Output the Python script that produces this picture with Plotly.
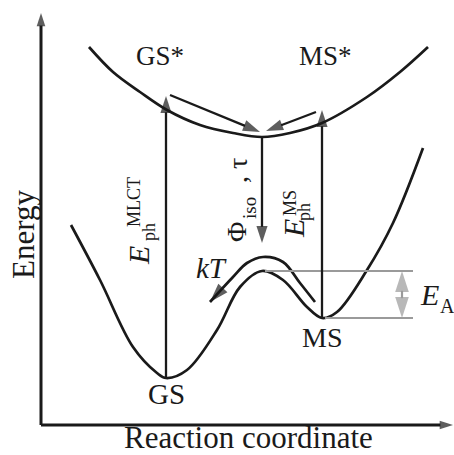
import plotly.graph_objects as go

# ---- data (schematic coordinates: x = reaction coordinate, y = energy, screen-like units) ----
lower_x = [71, 100, 133, 157, 166, 187, 217, 240, 262, 283, 307, 322, 337, 367, 393, 423]
lower_y = [225, 280, 347, 373, 378, 370, 330, 287, 271, 280, 307, 318, 312, 270, 223, 148]

upper_x = [89, 113, 140, 167, 200, 233, 262, 290, 322, 367, 400, 428]
upper_y = [47, 72, 92, 110, 125, 133, 137, 133, 123, 97, 72, 47]

kt_x = [315, 300, 283, 263, 247, 233, 210]
kt_y = [302, 283, 262, 257, 263, 277, 302]

# arrows: (x0, y0, x1, y1)
axis_arrows = [(41, 425, 41, 13), (41, 425, 453, 425)]
black_arrows = [
    (166, 378, 166, 96),    # E_ph^MLCT excitation
    (322, 318, 322, 110),   # E_ph^MS excitation
    (262, 138, 262, 243),   # Phi_iso, tau relaxation
    (170, 95, 260, 132),    # GS* -> minimum
    (316, 112, 266, 131),   # MS* -> minimum
]
ea_levels = [(265, 271, 413, 271), (325, 318, 413, 318)]
ea_arrows = [(402, 295, 402, 271), (402, 295, 402, 318)]

BLACK = "#1a1a1a"
GREY = "#9a9a9a"
FONT = "Liberation Serif"

fig = go.Figure()


def add_arrow(x0, y0, x1, y1, color, width, size):
    fig.add_trace(go.Scatter(
        x=[x0, x1], y=[y0, y1], mode="lines+markers",
        line=dict(color=color, width=width),
        marker=dict(symbol="arrow", size=[0, size], angleref="previous",
                    color=color, line=dict(width=0)),
        hoverinfo="skip", showlegend=False))


# curves
fig.add_trace(go.Scatter(x=lower_x, y=lower_y, mode="lines",
                         line=dict(color=BLACK, width=2.7, shape="spline", smoothing=1.0),
                         hoverinfo="skip", showlegend=False))
fig.add_trace(go.Scatter(x=upper_x, y=upper_y, mode="lines",
                         line=dict(color=BLACK, width=2.7, shape="spline", smoothing=1.0),
                         hoverinfo="skip", showlegend=False))
fig.add_trace(go.Scatter(x=kt_x, y=kt_y, mode="lines+markers",
                         line=dict(color=BLACK, width=2.7, shape="spline", smoothing=1.0),
                         marker=dict(symbol="arrow", size=[0] * (len(kt_x) - 1) + [20],
                                     angleref="previous", color=BLACK, line=dict(width=0)),
                         hoverinfo="skip", showlegend=False))

# grey E_A levels and double arrow
for (x0, y0, x1, y1) in ea_levels:
    fig.add_trace(go.Scatter(x=[x0, x1], y=[y0, y1], mode="lines",
                             line=dict(color=GREY, width=2.2),
                             hoverinfo="skip", showlegend=False))
for a in ea_arrows:
    add_arrow(*a, GREY, 2.2, 22)

for a in axis_arrows:
    add_arrow(*a, BLACK, 3, 14)
for a in black_arrows:
    add_arrow(*a, BLACK, 2.3, 18)


def txt(x, y, s, size, angle=0):
    fig.add_annotation(x=x, y=y, text=s, showarrow=False, textangle=angle,
                       xanchor="center", yanchor="middle",
                       font=dict(family=FONT, size=size, color=BLACK))


txt(160, 56, "GS*", 27)
txt(325, 56, "MS*", 27)
txt(166, 394, "GS", 29)
txt(322, 337, "MS", 28)
txt(248, 437, "Reaction coordinate", 31)
txt(23, 235, "Energy", 31, -90)
txt(211, 268, "<i>kT</i>", 29)
txt(429, 294, "<i>E</i>", 30)
txt(447, 306, "A", 20)
# E_ph^MLCT
txt(138, 256, "<i>E</i>", 30, -90)
txt(134, 202, "MLCT", 18, -90)
txt(149, 232, "ph", 18, -90)
# Phi_iso, tau
txt(236, 232, "Φ", 28, -90)
txt(249, 208, "iso", 19, -90)
txt(237, 171, ", τ", 28, -90)
# E_ph^MS
txt(293, 229, "<i>E</i>", 30, -90)
txt(290, 203, "MS", 18, -90)
txt(304, 212, "ph", 18, -90)

fig.update_layout(
    width=454, height=455, margin=dict(l=0, r=0, t=0, b=0),
    paper_bgcolor="white", plot_bgcolor="white",
    xaxis=dict(range=[0, 454], visible=False, fixedrange=True),
    yaxis=dict(range=[455, 0], visible=False, fixedrange=True),
)

fig.write_html("out.html")
